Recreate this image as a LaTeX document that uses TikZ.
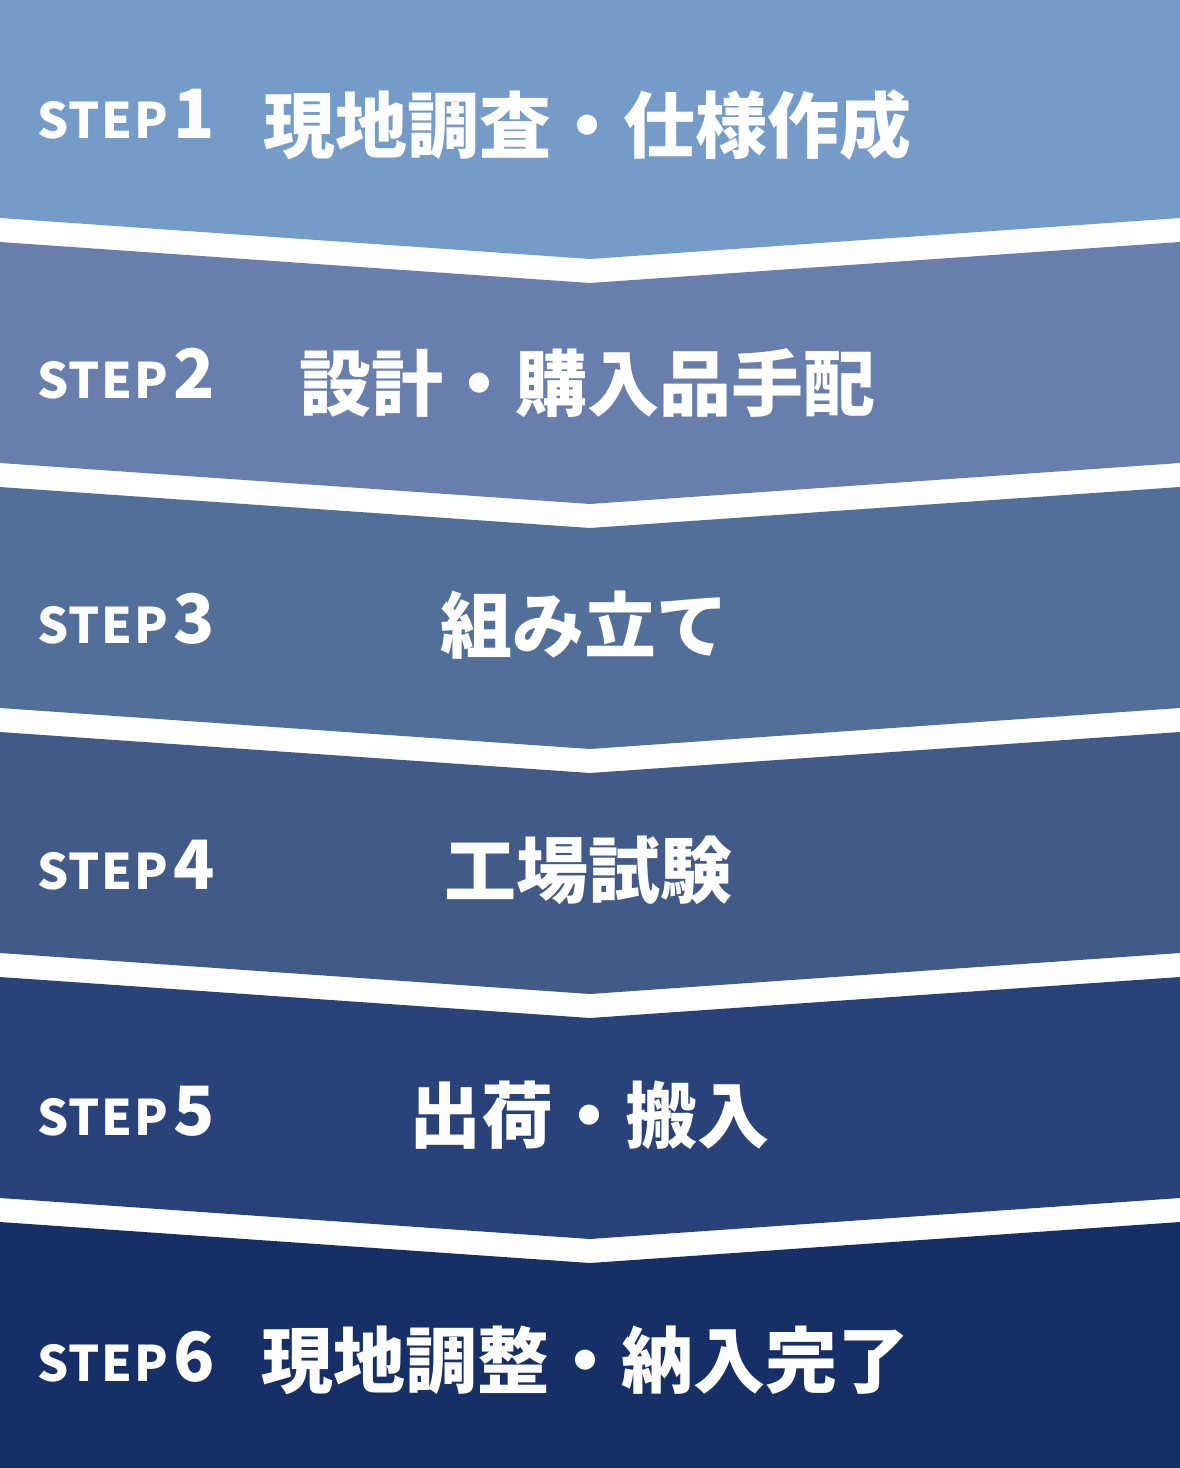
\documentclass[tikz,border=0pt]{standalone}
\usepackage{fontspec}
\newfontfamily\jpfont{Noto Sans CJK JP}
\newfontfamily\stepfont{Noto Sans CJK JP}[LetterSpace=3]
\usepackage{tikz}
\usetikzlibrary{positioning}
\definecolor{stepone}{HTML}{759CC8}
\definecolor{steptwo}{HTML}{687FAD}
\definecolor{stepthree}{HTML}{526F9A}
\definecolor{stepfour}{HTML}{415A88}
\definecolor{stepfive}{HTML}{29437A}
\definecolor{stepsix}{HTML}{163067}
\newcommand{\stepno}[1]{STEP\hspace{6pt}{\jpfont\bfseries\fontsize{68}{68}\selectfont #1}}
\tikzset{
  steplabel/.style={text=white,font=\stepfont\bfseries\fontsize{49}{49}\selectfont,anchor=base west,inner sep=0pt},
  titlelabel/.style={text=white,font=\jpfont\bfseries\fontsize{72}{72}\selectfont,anchor=center,inner sep=0pt}
}

\begin{document}
\begin{tikzpicture}[x=1pt,y=-1pt]
  \useasboundingbox (0,0) rectangle (1180,1468);
  \fill[white] (0,0) rectangle (1180,1468);
  % chevron bands
  \fill[stepone] (0,0) -- (1180,0) -- (1180,218) -- (590,259) -- (0,218) -- cycle;
  \fill[steptwo] (0,242) -- (590,283) -- (1180,242) -- (1180,463) -- (590,504) -- (0,463) -- cycle;
  \fill[stepthree] (0,487) -- (590,528) -- (1180,487) -- (1180,708) -- (590,749) -- (0,708) -- cycle;
  \fill[stepfour] (0,732) -- (590,773) -- (1180,732) -- (1180,953) -- (590,994) -- (0,953) -- cycle;
  \fill[stepfive] (0,977) -- (590,1018) -- (1180,977) -- (1180,1198) -- (590,1239) -- (0,1198) -- cycle;
  \fill[stepsix] (0,1222) -- (590,1263) -- (1180,1222) -- (1180,1468) -- (0,1468) -- cycle;
  % step numbers
  \node[steplabel] (step1) at (37,138) {\stepno{1}};
  \node[steplabel] (step2) at (37,398) {\stepno{2}};
  \node[steplabel] (step3) at (37,643) {\stepno{3}};
  \node[steplabel] (step4) at (37,889) {\stepno{4}};
  \node[steplabel] (step5) at (37,1135) {\stepno{5}};
  \node[steplabel] (step6) at (37,1381) {\stepno{6}};
  % titles
  \node[titlelabel] (title1) at (587,125) {現地調査・仕様作成};
  \node[titlelabel] (title2) at (587,383) {設計・購入品手配};
  \node[titlelabel] (title3) at (584,625) {組み立て};
  \node[titlelabel] (title4) at (588,870) {工場試験};
  \node[titlelabel] (title5) at (589,1115) {出荷・搬入};
  \node[titlelabel] (title6) at (585,1360) {現地調整・納入完了};
\end{tikzpicture}
\end{document}
